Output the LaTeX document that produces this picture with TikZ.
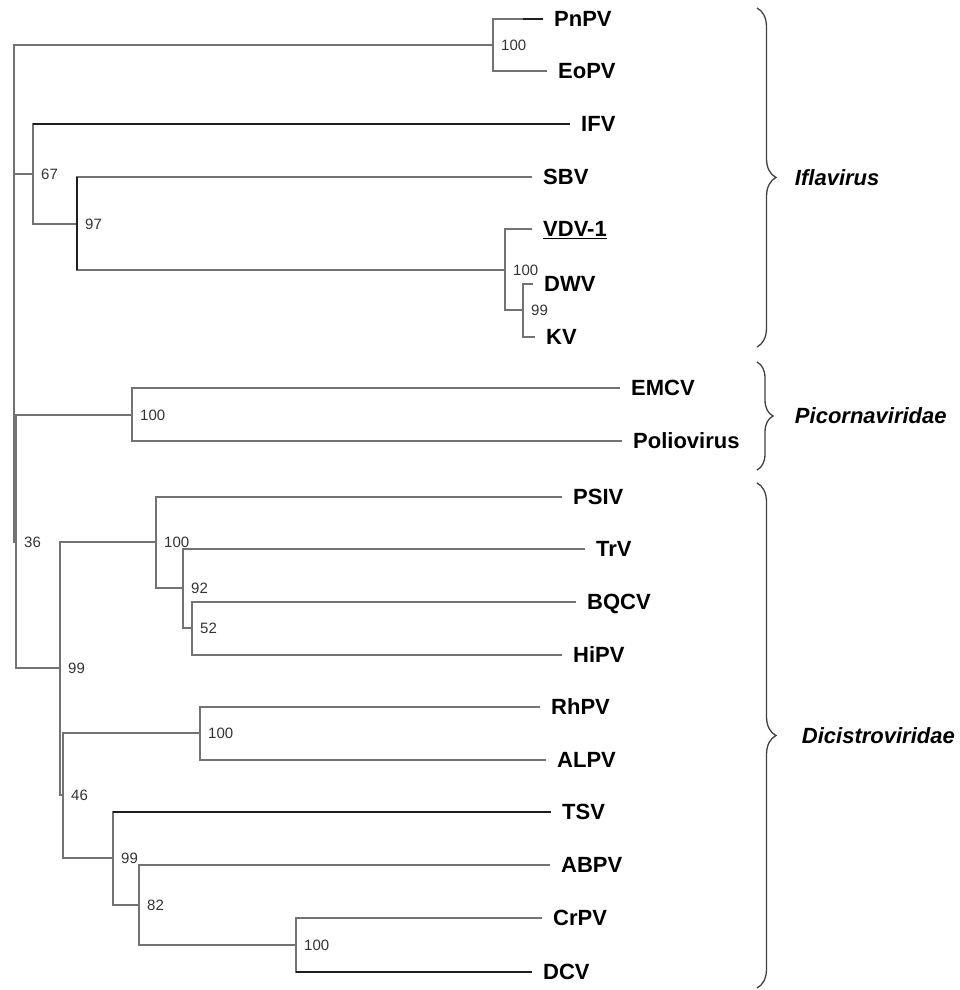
\documentclass[tikz,border=0pt]{standalone}
\usepackage{fontspec}
\setmainfont{Liberation Sans}
\usepackage{tikz}
\usetikzlibrary{decorations.pathreplacing}
\tikzstyle{branch}=    [color=black!55,line width=1.4pt]
\tikzstyle{branchdk}=  [color=black!88,line width=1.4pt]
\tikzstyle{leaf}=      [anchor=west,inner xsep=11pt,inner ysep=0pt,text depth=0pt,font=\fontsize{22}{26}\selectfont\bfseries]
\tikzstyle{boot}=      [anchor=west,inner sep=0pt,xshift=8pt,text=black!80,font=\fontsize{15}{18}\selectfont]
\tikzstyle{fambrace}=  [decorate,decoration={brace,amplitude=19pt},color=black!75,line width=1.3pt]
\tikzstyle{famlabel}=  [anchor=west,xshift=34pt,text=black,font=\fontsize{22}{26}\selectfont\bfseries\itshape]

\begin{document}
\begin{tikzpicture}[x=1pt,y=-1pt]
 \useasboundingbox (0,0) rectangle (959,990);

 \foreach \name/\x/\y/\txt in {pnpv/543/19/PnPV, eopv/547/71/EoPV, ifv/570/124/IFV, sbv/532/177/SBV,
   vdv/532/229/{\underline{VDV-1}}, dwv/533/284/DWV, kv/535/337/KV,
   emcv/620/388/EMCV, polio/622/441/Poliovirus,
   psiv/562/497/PSIV, trv/585/549/TrV, bqcv/576/602/BQCV, hipv/562/655/HiPV,
   rhpv/540/707/RhPV, alpv/546/760/ALPV, tsv/551/812/TSV, abpv/550/865/ABPV,
   crpv/542/918/CrPV, dcv/532/972/DCV}
 {
  \node[leaf] (\name) at (\x,\y) {\txt};
 }

 \coordinate (root) at (14,293);
 \foreach \name/\x/\y/\bs in {n1/493/45/100, n67/33/174/67, n97/77/224/97, nv/505/270/100, n99a/523/310/99,
   np/132/415/100, n36/16/542/36, n99b/60/668/99, nc/156/542/100, n92/183/588/92, n52/192/628/52,
   n46/63/795/46, nr/200/733/100, n99t/113/858/99, n82/139/905/82, nd/296/945/100}
 {
  \coordinate (\name) at (\x,\y);
  \node[boot] (\name-bs) at (\x,\y) {\bs};
 }

 \draw[branch] (pnpv.west) -| (n1) |- (eopv.west);
 \draw[branchdk] (pnpv.west) -- ++(-20,0);
 \draw[branch] (n1) -| (root) |- (n36);
 \draw[branch] (root |- n67) -- (n67);
 \draw[branch] (ifv.west) -| (n67) |- (n97);
 \draw[branchdk] (ifv.west) -- (ifv.west -| n67);
 \draw[branch] (sbv.west) -| (n97) |- (nv);
 \draw[branchdk] (sbv.west -| n97) -- (n97 |- nv);
 \draw[branch] (vdv.west) -| (nv) |- (n99a);
 \draw[branch] (dwv.west) -| (n99a) |- (kv.west);

 \draw[branch] (emcv.west) -| (np) |- (polio.west);
 \draw[branch] (np) -| (n36) |- (n99b);

 \draw[branch] (nc) -| (n99b) |- (n46);
 \draw[branch] (psiv.west) -| (nc) |- (n92);
 \draw[branch] (trv.west) -| (n92) |- (n52);
 \draw[branch] (bqcv.west) -| (n52) |- (hipv.west);
 \draw[branch] (nr) -| (n46) |- (n99t);
 \draw[branch] (rhpv.west) -| (nr) |- (alpv.west);
 \draw[branch] (tsv.west) -| (n99t) |- (n82);
 \draw[branchdk] (tsv.west) -- (tsv.west -| n99t);
 \draw[branch] (abpv.west) -| (n82) |- (nd);
 \draw[branch] (crpv.west) -| (nd) |- (dcv.west);
 \draw[branchdk] (dcv.west) -- (dcv.west -| nd);

 \draw[fambrace] (757,8) -- node[famlabel] (ifla) {Iflavirus} (757,347);
 \draw[fambrace,decoration={brace,amplitude=16pt}] (757,362) -- node[famlabel] (picorna) {Picornaviridae} (757,470);
 \draw[fambrace] (757,483) -- node[famlabel,xshift=7pt] (dicistro) {Dicistroviridae} (757,988);
\end{tikzpicture}
\end{document}
